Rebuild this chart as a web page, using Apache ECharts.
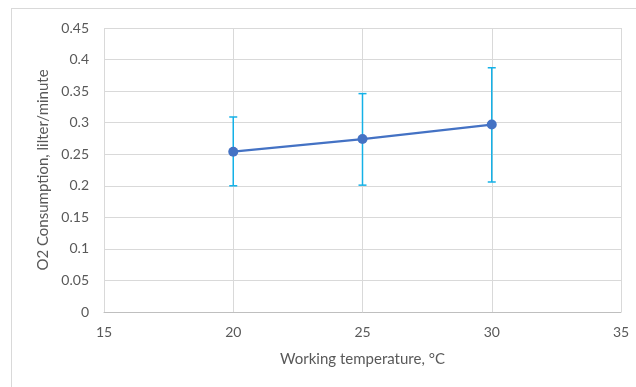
<!DOCTYPE html>
<html><head><meta charset="utf-8">
<script src="https://cdn.jsdelivr.net/npm/echarts@6/dist/echarts.min.js"></script>
<style>html,body{margin:0;padding:0;background:#fff}#c{width:636px;height:387px;position:relative}
#frame{position:absolute;left:11px;top:8px;width:640px;height:400px;border:1px solid #d9d9d9;box-sizing:border-box;pointer-events:none}</style>
</head><body><div id="c"></div><div id="frame"></div>
<script>
const temps = [20, 25, 30];
const o2Mean = [0.254, 0.274, 0.297];
const o2Low = [0.200, 0.201, 0.206];
const o2High = [0.309, 0.346, 0.387];
const xTicks = [15, 20, 25, 30, 35];
const yTicks = [0, 0.05, 0.1, 0.15, 0.2, 0.25, 0.3, 0.35, 0.4, 0.45];

const font = 'Lato, "Open Sans", sans-serif';
const chart = echarts.init(document.getElementById('c'), null, {renderer: 'canvas'});
chart.setOption({
  animation: false,
  grid: {left: 104, right: 15, top: 28, bottom: 75},
  xAxis: {
    type: 'value', min: xTicks[0], max: xTicks[xTicks.length-1], interval: 5,
    name: 'Working temperature, °C', nameLocation: 'middle', nameGap: 40,
    nameTextStyle: {color: '#595959', fontSize: 15, fontFamily: font},
    axisLine: {show: true, lineStyle: {color: '#bfbfbf', width: 1}},
    axisTick: {show: false},
    axisLabel: {color: '#595959', fontSize: 14, fontFamily: font, margin: 13},
    splitLine: {show: true, lineStyle: {color: '#d9d9d9', width: 1}}
  },
  yAxis: {
    type: 'value', min: 0, max: 0.45, interval: 0.05,
    name: 'O2 Consumption, lilter/minute', nameLocation: 'middle', nameGap: 50,
    nameTextStyle: {color: '#595959', fontSize: 15, fontFamily: font},
    axisLine: {show: false}, axisTick: {show: false},
    axisLabel: {color: '#595959', fontSize: 14, fontFamily: font, margin: 15,
      formatter: v => String(+v.toFixed(2))},
    splitLine: {show: true, lineStyle: {color: '#d9d9d9', width: 1}}
  },
  series: [
    {
      type: 'custom',
      data: temps.map((t, i) => [t, o2Low[i], o2High[i]]),
      renderItem: function (params, api) {
        const x = api.value(0);
        const lo = api.coord([x, api.value(1)]);
        const hi = api.coord([x, api.value(2)]);
        const hw = 4;
        const style = {stroke: '#14b1e7', lineWidth: 1.5};
        return {type: 'group', children: [
          {type: 'line', shape: {x1: lo[0], y1: lo[1], x2: hi[0], y2: hi[1]}, style},
          {type: 'line', shape: {x1: lo[0]-hw, y1: lo[1], x2: lo[0]+hw, y2: lo[1]}, style},
          {type: 'line', shape: {x1: hi[0]-hw, y1: hi[1], x2: hi[0]+hw, y2: hi[1]}, style}
        ]};
      },
      z: 1
    },
    {
      type: 'line',
      data: temps.map((t, i) => [t, o2Mean[i]]),
      symbol: 'circle', symbolSize: 10,
      lineStyle: {color: '#4472c4', width: 2.25},
      itemStyle: {color: '#4472c4'},
      z: 3
    }
  ]
});
</script></body></html>
